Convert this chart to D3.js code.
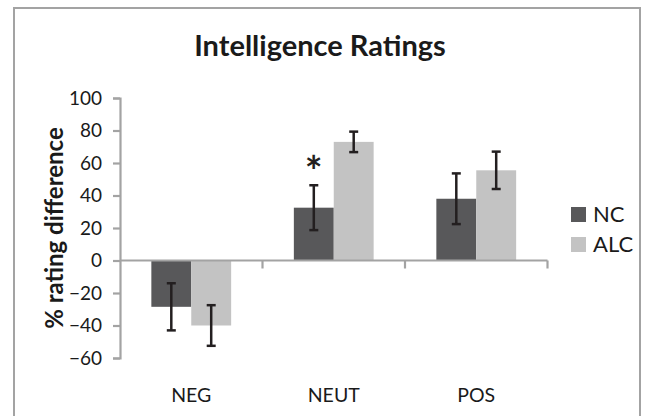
<!DOCTYPE html>
<html>
<head>
<meta charset="utf-8">
<script src="https://cdn.jsdelivr.net/npm/d3@7"></script>
<style>
  body { margin: 0; background: #fff; }
  svg { display: block; }
</style>
</head>
<body>
<svg width="645" height="416"></svg>
<script>
// values
const categories = ['NEG', 'NEUT', 'POS'];
const seriesNames = ['NC', 'ALC'];
const ncValues = [-28.5, 32.5, 38];
const alcValues = [-40, 73, 55.5];
const ncErrors = [14.5, 13.8, 15.6];
const alcErrors = [12.5, 6.3, 11.5];
const yTicks = [-60, -40, -20, 0, 20, 40, 60, 80, 100];
const significant = ['NEUT']; // asterisk over NC bar

const colors = { NC: '#58585a', ALC: '#c3c3c3' };
const font = 'Lato, "Open Sans", sans-serif';

let svg = d3.select('svg');

// outer frame
svg.append('rect')
    .attr('x', 14).attr('y', 8)
    .attr('width', 626).attr('height', 420)
    .attr('fill', 'none')
    .attr('stroke', '#a3a3a3')
    .attr('stroke-width', 2);

svg.append('text')
    .attr('x', 320).attr('y', 56)
    .attr('text-anchor', 'middle')
    .style('font-family', font)
    .style('font-weight', 'bold')
    .style('font-size', '29px')
    .style('fill', '#1a1a1a')
    .text('Intelligence Ratings');

let y = d3.scaleLinear().domain([-60, 100]).range([358, 98]);
let x0 = d3.scaleBand().domain(categories).range([120, 547.5]);
let x1 = d3.scaleBand().domain(seriesNames)
    .range([x0.bandwidth() * 0.22, x0.bandwidth() * 0.78]);

let data = [];
categories.forEach((c, i) => {
    data.push({ cat: c, series: 'NC', value: ncValues[i], err: ncErrors[i] });
    data.push({ cat: c, series: 'ALC', value: alcValues[i], err: alcErrors[i] });
});

// bars
svg.append('g').selectAll('rect')
    .data(data)
    .enter().append('rect')
    .attr('x', d => x0(d.cat) + x1(d.series))
    .attr('width', x1.bandwidth())
    .attr('y', d => y(Math.max(0, d.value)))
    .attr('height', d => Math.abs(y(d.value) - y(0)))
    .attr('fill', d => colors[d.series]);

// y axis
let yAxis = svg.append('g')
    .attr('transform', 'translate(120,0)')
    .call(d3.axisLeft(y).tickValues(yTicks).tickSize(7).tickPadding(11).tickFormat(d3.format('d')));
yAxis.select('.domain').attr('stroke', '#a3a3a3').attr('stroke-width', 2.2);
yAxis.selectAll('.tick line').attr('stroke', '#a3a3a3').attr('stroke-width', 2.2);
yAxis.selectAll('.tick text')
    .style('font-family', font)
    .style('font-size', '19px')
    .style('fill', '#1a1a1a');

// x axis along zero, ticks at category boundaries
let xg = svg.append('g');
xg.append('line')
    .attr('x1', x0.range()[0]).attr('x2', x0.range()[1])
    .attr('y1', y(0)).attr('y2', y(0))
    .attr('stroke', '#a3a3a3').attr('stroke-width', 2.2);
let bounds = categories.map(c => x0(c) + x0.bandwidth());
xg.selectAll('.bt')
    .data(bounds)
    .enter().append('line')
    .attr('x1', d => d).attr('x2', d => d)
    .attr('y1', y(0)).attr('y2', y(0) + 8)
    .attr('stroke', '#a3a3a3').attr('stroke-width', 2.2);

// category labels
svg.append('g').selectAll('text')
    .data(categories)
    .enter().append('text')
    .attr('x', d => x0(d) + x0.bandwidth() / 2)
    .attr('y', 402)
    .attr('text-anchor', 'middle')
    .style('font-family', font)
    .style('font-size', '19.5px')
    .style('fill', '#1a1a1a')
    .text(d => d);

// error bars
let eb = svg.append('g').selectAll('g')
    .data(data)
    .enter().append('g')
    .attr('stroke', '#231f20')
    .attr('stroke-width', 2.5);
let cx = d => x0(d.cat) + x1(d.series) + x1.bandwidth() / 2;
eb.append('line')
    .attr('x1', cx).attr('x2', cx)
    .attr('y1', d => y(d.value + d.err))
    .attr('y2', d => y(d.value - d.err));
eb.append('line')
    .attr('x1', d => cx(d) - 4.5).attr('x2', d => cx(d) + 4.5)
    .attr('y1', d => y(d.value + d.err)).attr('y2', d => y(d.value + d.err));
eb.append('line')
    .attr('x1', d => cx(d) - 4.5).attr('x2', d => cx(d) + 4.5)
    .attr('y1', d => y(d.value - d.err)).attr('y2', d => y(d.value - d.err));

// significance marker
svg.append('g').selectAll('text')
    .data(data.filter(d => d.series === 'NC' && significant.includes(d.cat)))
    .enter().append('text')
    .attr('x', cx)
    .attr('y', d => y(d.value + d.err) + 2)
    .attr('text-anchor', 'middle')
    .style('font-family', font)
    .style('font-weight', 'bold')
    .style('font-size', '42px')
    .style('fill', '#231f20')
    .text('*');

// y label
svg.append('text')
    .attr('transform', 'translate(63,228) rotate(-90)')
    .attr('text-anchor', 'middle')
    .style('font-family', font)
    .style('font-weight', 'bold')
    .style('font-size', '24px')
    .style('fill', '#1a1a1a')
    .text('% rating difference');

// legend
let legend = svg.append('g').selectAll('g')
    .data(seriesNames)
    .enter().append('g')
    .attr('transform', (d, i) => 'translate(571,' + (207 + i * 30) + ')');
legend.append('rect')
    .attr('width', 15).attr('height', 15)
    .attr('fill', d => colors[d]);
legend.append('text')
    .attr('x', 22).attr('y', 15)
    .style('font-family', font)
    .style('font-size', '22px')
    .style('fill', '#1a1a1a')
    .text(d => d);
</script>
</body>
</html>
